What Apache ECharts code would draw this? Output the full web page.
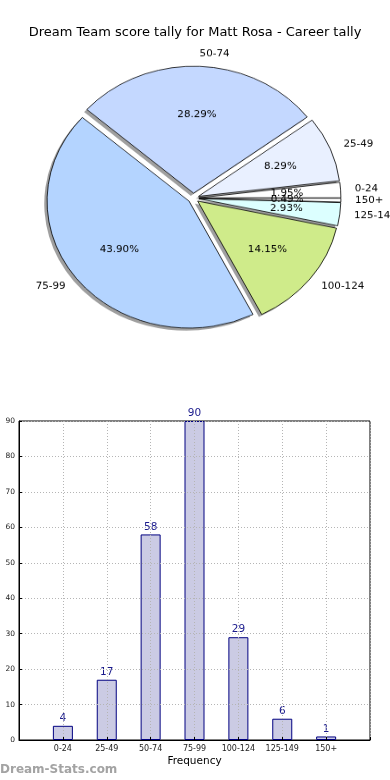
<!DOCTYPE html>
<html><head><meta charset="utf-8">
<script src="https://cdn.jsdelivr.net/npm/echarts@6/dist/echarts.min.js"></script>
<style>
html,body{margin:0;padding:0;background:#fff;}
#main{position:absolute;left:0;top:0;width:390px;height:780px;}
#pie{position:absolute;left:0;top:0;width:390px;height:430px;transform:scaleY(0.894);transform-origin:0 0;}
</style></head><body>
<div id="main"></div><div id="pie"></div>
<script>
const categories = ['0-24','25-49','50-74','75-99','100-124','125-149','150+'];
const frequencies = [4, 17, 58, 90, 29, 6, 1];
const sliceColors = ['#ffffff','#e9f0ff','#c4d8ff','#b4d4ff','#cfeb8a','#dcffff','#ffffff'];
const yMax = 90;
const yTickStep = 10;
const titleText = 'Dream Team score tally for Matt Rosa - Career tally';
const xAxisName = 'Frequency';
const watermark = 'Dream-Stats.com';

const main = echarts.init(document.getElementById('main'));
const paddedCats = [''].concat(categories, ['']);
const paddedVals = ['-'].concat(frequencies, ['-']);
const gridLine = {show:true, lineStyle:{color:'#b5b5b5', type:[1,2], width:1}};
main.setOption({
  backgroundColor:'#fff',
  animation:false,
  title:{text:titleText, left:'center', top:21,
    textStyle:{fontFamily:'DejaVu Sans', fontSize:13, fontWeight:'normal', color:'#000'}},
  grid:{left:19, right:20, top:421, bottom:40, show:true, borderColor:'#000', borderWidth:1, backgroundColor:'transparent'},
  xAxis:{type:'category', data:paddedCats, boundaryGap:false, z:3,
    name:xAxisName, nameLocation:'middle', nameGap:16,
    nameTextStyle:{fontFamily:'DejaVu Sans', fontSize:10.5, color:'#000'},
    axisLine:{lineStyle:{color:'#000'}},
    axisTick:{inside:true, length:3, lineStyle:{color:'#000'}},
    axisLabel:{interval:0, fontFamily:'DejaVu Sans', fontSize:8, color:'#222', margin:5},
    splitLine:gridLine},
  yAxis:{type:'value', min:0, max:yMax, interval:yTickStep, z:3,
    axisLine:{show:true, lineStyle:{color:'#000'}},
    axisTick:{show:true, inside:true, length:3, lineStyle:{color:'#000'}},
    axisLabel:{fontFamily:'DejaVu Sans', fontSize:7.5, color:'#222', margin:4},
    splitLine:gridLine},
  series:[{type:'bar', data:paddedVals, barWidth:20,
    itemStyle:{color:'#cbcbe4', borderColor:'#000080', borderWidth:1},
    label:{show:true, position:'top', distance:2, fontFamily:'DejaVu Sans', fontSize:10.5, color:'#1a1a8c'}}],
  graphic:[{type:'text', left:0, top:764,
    style:{text:watermark, fontFamily:'DejaVu Sans', fontSize:12, fontWeight:'bold', fill:'#a3a3a3'}}]
});

const pie = echarts.init(document.getElementById('pie'));
const R = 142, C = [193.4, 221.6], OFF = 5.5;
const mk = (withColor) => categories.map((c,i) => {
  const d = {name:c, value:frequencies[i], selected:true};
  if (withColor) d.itemStyle = {color:sliceColors[i]};
  return d;
});
const common = {type:'pie', startAngle:0, clockwise:false, selectedMode:'multiple',
  selectedOffset:OFF, avoidLabelOverlap:false, minShowLabelAngle:0,
  labelLayout:{hideOverlap:false}, emphasis:{disabled:true}, animation:false};
pie.setOption({
  backgroundColor:'transparent',
  animation:false,
  series:[
    Object.assign({}, common, {z:1, center:[C[0]-2.8, C[1]+2.8], radius:[0,R], data:mk(false), silent:true,
      itemStyle:{color:'rgba(80,80,80,0.55)', borderWidth:0},
      select:{itemStyle:{color:'rgba(80,80,80,0.55)', borderWidth:0}},
      label:{show:false}, labelLine:{show:false}}),
    Object.assign({}, common, {z:2, center:C, radius:[0,R], data:mk(true),
      itemStyle:{borderColor:'#000', borderWidth:0.8},
      select:{itemStyle:{borderColor:'#000', borderWidth:0.8}},
      label:{show:true, position:'outside', formatter:'{b}', fontFamily:'DejaVu Sans', fontSize:10.3, color:'#000',
        distanceToLabelLine:0, overflow:'none', alignTo:'none'},
      labelLine:{show:false, length:R*0.1, length2:0}}),
    Object.assign({}, common, {z:3, center:C, radius:[R*0.2,R], data:mk(false), silent:true,
      itemStyle:{color:'rgba(0,0,0,0)', borderWidth:0},
      select:{itemStyle:{color:'rgba(0,0,0,0)', borderWidth:0}},
      label:{show:true, position:'inside', formatter:p => p.percent.toFixed(2) + '%',
        fontFamily:'DejaVu Sans', fontSize:10.3, color:'#000', overflow:'none'},
      labelLine:{show:false}})
  ]
});
</script></body></html>
